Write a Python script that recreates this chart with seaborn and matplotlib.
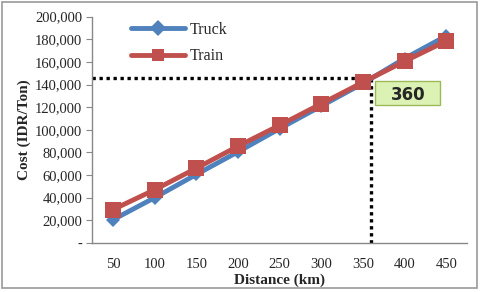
import pandas as pd
import numpy as np
import matplotlib
matplotlib.use("Agg")
import matplotlib.pyplot as plt
import seaborn as sns
from matplotlib.ticker import FuncFormatter, FixedLocator
from matplotlib.patches import Rectangle

# data
distance = [50, 100, 150, 200, 250, 300, 350, 400, 450]
truck_cost = [20500, 40000, 60500, 80500, 101000, 121000, 141000, 163000, 183000]
train_cost = [29500, 47000, 66000, 85500, 104000, 123000, 142000, 160500, 178500]
break_even_km = 360
break_even_cost = 146000

df = pd.DataFrame({
    "pos": list(range(len(distance))) * 2,
    "cost": truck_cost + train_cost,
    "mode": ["Truck"] * len(distance) + ["Train"] * len(distance),
})

sns.set_style("white")
plt.rcParams["font.family"] = ["Liberation Serif", "DejaVu Serif"]

fig = plt.figure(figsize=(4.8, 2.92), dpi=100)
ax = fig.add_axes([0.192, 0.168, 0.781, 0.775])

sns.lineplot(
    data=df, x="pos", y="cost", hue="mode", style="mode",
    palette={"Truck": "#4F81BD", "Train": "#C0504D"},
    markers={"Truck": "D", "Train": "s"},
    dashes=False, linewidth=3.5, markersize=8, markeredgewidth=0,
    ax=ax,
)
ax.lines[0].set_markersize(7.5)
ax.lines[1].set_markersize(11)

# break-even dotted lines
x360 = (break_even_km - distance[0]) / (distance[1] - distance[0])
ax.plot([-0.5, x360], [break_even_cost, break_even_cost], color="black",
        linestyle=(0, (1, 1.1)), linewidth=2.4, zorder=1)
ax.plot([x360, x360], [0, break_even_cost], color="black",
        linestyle=(0, (1, 1.1)), linewidth=2.4, zorder=1)

# label box next to the crossing
ax.add_patch(Rectangle((x360 + 0.1, 122000), 1.55, 21500, facecolor="#dcf2b4",
                       edgecolor="#9bbb59", linewidth=1.0, zorder=5))
ax.text(x360 + 0.88, 131000, str(break_even_km), ha="center", va="center",
        fontsize=12, fontweight="bold", family="DejaVu Sans", zorder=6)

ax.set_xlim(-0.5, len(distance) - 0.5)
ax.set_ylim(0, 200000)
ax.set_xticks(range(len(distance)))
ax.set_xticklabels([str(d) for d in distance])
ax.xaxis.set_minor_locator(FixedLocator(np.arange(-0.5, len(distance), 1)))
ax.tick_params(axis="x", which="major", length=0, pad=11, labelsize=10.5)
ax.tick_params(axis="x", which="minor", length=4, direction="out", color="#888888")
ax.set_yticks(range(0, 200001, 20000))
ax.yaxis.set_major_formatter(FuncFormatter(lambda v, p: "-" if v == 0 else f"{int(v):,}"))
ax.tick_params(axis="y", length=4, direction="out", color="#888888", labelsize=10.5, pad=3)
ax.tick_params(left=True)

for side in ["top", "right"]:
    ax.spines[side].set_visible(False)
for side in ["left", "bottom"]:
    ax.spines[side].set_color("#888888")
    ax.spines[side].set_linewidth(1)

ax.set_xlabel("Distance (km)", fontsize=11, fontweight="bold", labelpad=2)
ax.set_ylabel("Cost (IDR/Ton)", fontsize=11, fontweight="bold", labelpad=3)

ax.legend(loc="upper left", bbox_to_anchor=(0.065, 1.04), frameon=False,
          fontsize=11.5, handlelength=3.4, handletextpad=0.3, labelspacing=0.65,
          title=None)

fig.patches.append(Rectangle((0.004, 0.012), 0.99, 0.98, transform=fig.transFigure,
                             fill=False, edgecolor="#999999", linewidth=1.2))

fig.savefig("out.png", dpi=100)
